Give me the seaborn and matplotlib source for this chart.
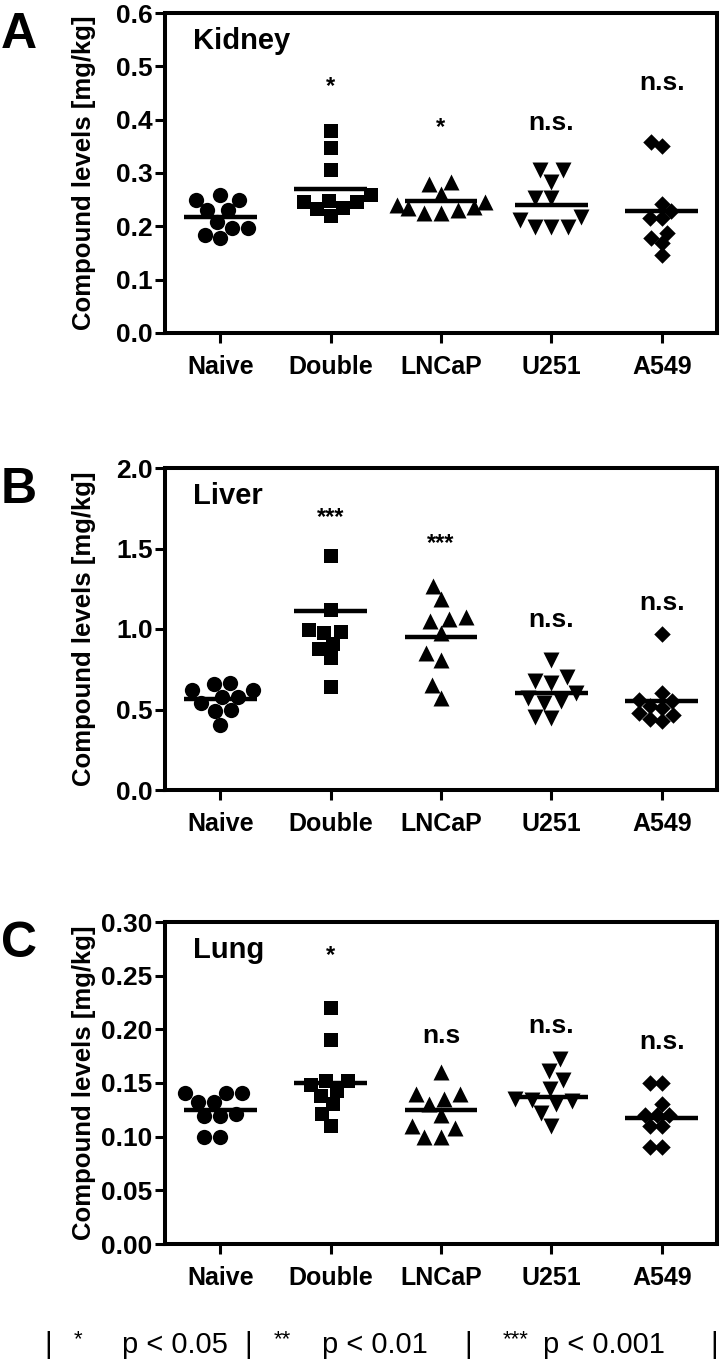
import numpy as np
import pandas as pd
import matplotlib
matplotlib.use('Agg')
import matplotlib.pyplot as plt
import seaborn as sns

sns.set_style('ticks')
plt.rcParams['font.family'] = ['Liberation Sans', 'DejaVu Sans']
plt.rcParams['text.color'] = 'black'
plt.rcParams['axes.labelcolor'] = 'black'
plt.rcParams['axes.edgecolor'] = 'black'
plt.rcParams['xtick.color'] = 'black'
plt.rcParams['ytick.color'] = 'black'

groups = ['Naive', 'Double', 'LNCaP', 'U251', 'A549']
markers = ['o', 's', '^', 'v', 'D']
marker_sizes = [11.0, 10.4, 11.5, 11.5, 8.4]

# Kidney [mg/kg]
kidney_naive = [0.25, 0.23, 0.23, 0.25, 0.258, 0.208, 0.197, 0.178, 0.184, 0.197]
kidney_double = [0.378, 0.346, 0.306, 0.258, 0.247, 0.245, 0.245, 0.235, 0.232, 0.22]
kidney_lncap = [0.284, 0.28, 0.26, 0.246, 0.24, 0.237, 0.234, 0.23, 0.225, 0.225]
kidney_u251 = [0.306, 0.306, 0.284, 0.253, 0.253, 0.218, 0.199, 0.199, 0.199, 0.212]
kidney_a549 = [0.35, 0.359, 0.242, 0.215, 0.215, 0.229, 0.178, 0.168, 0.188, 0.146]
kidney_means = [0.2175, 0.27, 0.248, 0.24, 0.229]
kidney_sig = ['', '*', '*', 'n.s.', 'n.s.']
kidney_sig_y = [0, 0.463, 0.385, 0.394, 0.469]

# Liver [mg/kg]
liver_naive = [0.66, 0.665, 0.62, 0.62, 0.58, 0.54, 0.577, 0.497, 0.493, 0.404]
liver_double = [1.451, 1.119, 0.995, 0.978, 0.984, 0.877, 0.908, 0.819, 0.642]
liver_lncap = [1.27, 1.184, 1.06, 1.05, 1.076, 0.973, 0.848, 0.807, 0.652, 0.57]
liver_u251 = [0.81, 0.70, 0.68, 0.665, 0.60, 0.57, 0.55, 0.54, 0.455, 0.45]
liver_a549 = [0.97, 0.60, 0.56, 0.55, 0.52, 0.51, 0.48, 0.465, 0.44, 0.43]
liver_means = [0.566, 1.113, 0.952, 0.60, 0.55]
liver_sig = ['', '***', '***', 'n.s.', 'n.s.']
liver_sig_y = [0, 1.69, 1.53, 1.056, 1.16]

# Lung [mg/kg]
lung_naive = [0.141, 0.141, 0.141, 0.132, 0.132, 0.121, 0.119, 0.119, 0.10, 0.10]
lung_double = [0.22, 0.19, 0.152, 0.152, 0.148, 0.143, 0.138, 0.13, 0.121, 0.11]
lung_lncap = [0.16, 0.14, 0.14, 0.135, 0.13, 0.12, 0.11, 0.108, 0.10, 0.10]
lung_u251 = [0.172, 0.161, 0.153, 0.144, 0.135, 0.134, 0.133, 0.13, 0.122, 0.11]
lung_a549 = [0.15, 0.15, 0.13, 0.12, 0.12, 0.12, 0.11, 0.11, 0.09, 0.09]
lung_means = [0.1246, 0.150, 0.1249, 0.137, 0.1177]
lung_sig = ['', '*', 'n.s', 'n.s.', 'n.s.']
lung_sig_y = [0, 0.2685, 0.194, 0.203, 0.188]

panels = [
    ('A', 'Kidney', [kidney_naive, kidney_double, kidney_lncap, kidney_u251, kidney_a549],
     kidney_means, kidney_sig, kidney_sig_y, np.arange(0, 0.61, 0.1), '{:.1f}'),
    ('B', 'Liver', [liver_naive, liver_double, liver_lncap, liver_u251, liver_a549],
     liver_means, liver_sig, liver_sig_y, np.arange(0, 2.01, 0.5), '{:.1f}'),
    ('C', 'Lung', [lung_naive, lung_double, lung_lncap, lung_u251, lung_a549],
     lung_means, lung_sig, lung_sig_y, np.arange(0, 0.301, 0.05), '{:.2f}'),
]

W, H = 721, 1370
fig = plt.figure(figsize=(W / 100, H / 100), dpi=100)
# axes boxes in pixels: (top, bottom)
boxes = [(13, 333), (468, 790), (922, 1244)]
left_px, right_px = 165, 717

for (letter, tissue, vals, means, sig, sig_y, yticks, fmt), (top, bot) in zip(panels, boxes):
    ax = fig.add_axes([left_px / W, 1 - bot / H, (right_px - left_px) / W, (bot - top) / H])
    for g, v, m, sz in zip(groups, vals, markers, marker_sizes):
        df = pd.DataFrame({'group': [g] * len(v), 'value': v})
        sns.swarmplot(data=df, x='group', y='value', order=groups, marker=m,
                      color='black', size=sz, linewidth=0, ax=ax)
    xpos = np.arange(len(groups))
    ax.hlines(means, xpos - 0.33, xpos + 0.33, color='black', linewidth=3.2, zorder=5)

    for i, (s, y) in enumerate(zip(sig, sig_y)):
        if not s:
            continue
        if s.startswith('*'):
            ax.text(i, y, s, ha='center', va='center', fontsize=17, fontweight='bold')
        else:
            ax.text(i, y, s, ha='center', va='center', fontsize=19, fontweight='bold')

    ax.set_xlim(-0.5, 4.5)
    ax.set_ylim(yticks[0], yticks[-1])
    ax.set_yticks(yticks)
    ax.set_yticklabels([fmt.format(t) for t in yticks], fontsize=19, fontweight='bold')
    ax.set_xticks(xpos)
    ax.set_xticklabels(groups, fontsize=18, fontweight='bold')
    ax.set_xlabel('')
    ax.set_ylabel('Compound levels [mg/kg]', fontsize=18.5, fontweight='bold')
    ax.yaxis.set_label_coords(-0.125, 0.5)
    for sp in ax.spines.values():
        sp.set_visible(True)
        sp.set_linewidth(2.9)
        sp.set_color('black')
    ax.tick_params(axis='both', direction='out', length=7, width=2.2, color='black')
    ax.tick_params(axis='x', pad=9)
    ax.tick_params(axis='y', pad=2)
    ax.text(0.05, 0.955, tissue, transform=ax.transAxes, ha='left', va='top',
            fontsize=21, fontweight='bold')
    fig.text(19 / W, 1 - (top + 22) / H, letter, ha='center', va='center',
             fontsize=36, fontweight='bold')

# significance key along the bottom
legend_y = 1 - 1345 / H
key_items = [(44, '|', 21), (74, '*', 16), (122, 'p < 0.05', 21), (244, '|', 21),
             (274, '**', 16), (322, 'p < 0.01', 21), (464, '|', 21), (503, '***', 16),
             (543, 'p < 0.001', 21), (710, '|', 21)]
for x, t, fs in key_items:
    fig.text(x / W, legend_y + (0.004 if t.startswith('*') else 0), t,
             ha='left', va='center', fontsize=fs)

fig.savefig('out.png', dpi=100)
